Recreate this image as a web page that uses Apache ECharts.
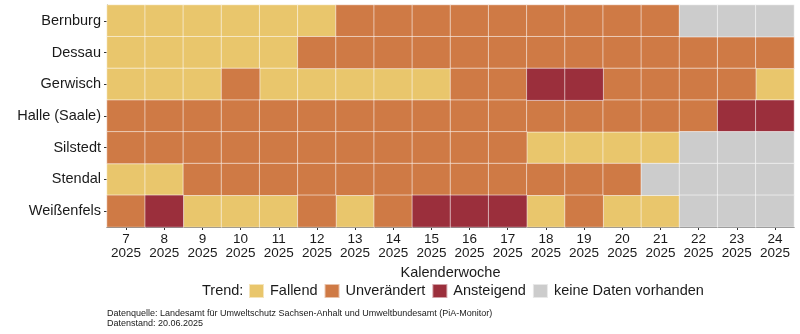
<!DOCTYPE html>
<html>
<head>
<meta charset="utf-8">
<script src="https://cdn.jsdelivr.net/npm/echarts@6/dist/echarts.min.js"></script>
<style>
html,body{margin:0;padding:0;background:#fff;}
#chart{width:800px;height:334px;}
</style>
</head>
<body>
<div id="chart"></div>
<script>
const stations = ['Bernburg','Dessau','Gerwisch','Halle (Saale)','Silstedt','Stendal','Weißenfels'];
const weeks = [7,8,9,10,11,12,13,14,15,16,17,18,19,20,21,22,23,24];
const year = '2025';
// F = Fallend, U = Unverändert, A = Ansteigend, N = keine Daten vorhanden
const trendBernburg   = ['F','F','F','F','F','F','U','U','U','U','U','U','U','U','U','N','N','N'];
const trendDessau     = ['F','F','F','F','F','U','U','U','U','U','U','U','U','U','U','U','U','U'];
const trendGerwisch   = ['F','F','F','U','F','F','F','F','F','U','U','A','A','U','U','U','U','F'];
const trendHalle      = ['U','U','U','U','U','U','U','U','U','U','U','U','U','U','U','U','A','A'];
const trendSilstedt   = ['U','U','U','U','U','U','U','U','U','U','U','F','F','F','F','N','N','N'];
const trendStendal    = ['F','F','U','U','U','U','U','U','U','U','U','U','U','U','N','N','N','N'];
const trendWeissenfels= ['U','A','F','F','F','U','F','U','A','A','A','F','U','F','F','N','N','N'];
const trendRows = [trendBernburg,trendDessau,trendGerwisch,trendHalle,trendSilstedt,trendStendal,trendWeissenfels];
const trendCodes = ['F','U','A','N'];
const trendNames = ['Fallend','Unverändert','Ansteigend','keine Daten vorhanden'];
const trendColors = ['#E9C66C','#CF7A45','#9B2F3C','#CCCCCC'];
const footnote1 = 'Datenquelle: Landesamt für Umweltschutz Sachsen-Anhalt und Umweltbundesamt (PiA-Monitor)';
const footnote2 = 'Datenstand: 20.06.2025';

const weekLabels = weeks.map(w => w + '\n' + year);
const series = trendCodes.map((code, ci) => {
  const data = [];
  trendRows.forEach((row, ri) => {
    row.forEach((v, wi) => { if (v === code) data.push([wi, ri, ci]); });
  });
  return {
    name: trendNames[ci],
    type: 'heatmap',
    data: data,
    itemStyle: { color: trendColors[ci], borderColor: 'rgba(255,255,255,0.55)', borderWidth: 1 },
    emphasis: { disabled: true },
    animation: false
  };
});

const FONT = '"Liberation Sans", Arial, sans-serif';
const TXT = '#1a1a1a';
const chart = echarts.init(document.getElementById('chart'), null, { renderer: 'canvas' });
chart.setOption({
  animation: false,
  textStyle: { fontFamily: FONT },
  grid: { left: 107, right: 6, top: 5, height: 222 },
  xAxis: {
    type: 'category',
    data: weekLabels,
    name: 'Kalenderwoche',
    nameLocation: 'middle',
    nameGap: 34,
    nameTextStyle: { fontSize: 14.5, color: TXT, fontFamily: FONT },
    axisLine: { show: true, lineStyle: { color: '#333', width: 1 } },
    axisTick: { show: true, alignWithLabel: true, length: 3, lineStyle: { color: '#333' } },
    axisLabel: { fontSize: 13.5, color: TXT, lineHeight: 14.5, margin: 5, fontFamily: FONT, interval: 0 },
    splitLine: { show: false }
  },
  yAxis: {
    type: 'category',
    data: stations,
    inverse: true,
    axisLine: { show: true, lineStyle: { color: '#333', width: 1 } },
    axisTick: { show: true, alignWithLabel: true, length: 3, lineStyle: { color: '#333' } },
    axisLabel: { fontSize: 14.5, color: TXT, margin: 6, fontFamily: FONT },
    splitLine: { show: false }
  },
  title: [
    { text: 'Trend:', left: 202, top: 283, textStyle: { fontSize: 14.5, fontWeight: 'normal', color: TXT, fontFamily: FONT, lineHeight: 15 }, padding: 0 },
    { text: footnote1 + '\n' + footnote2, left: 107, top: 309, textStyle: { fontSize: 9, fontWeight: 'normal', color: TXT, lineHeight: 10, fontFamily: FONT }, padding: 0 }
  ],
  legend: {
    data: trendNames,
    left: 248,
    top: 283,
    padding: 0,
    icon: 'rect',
    itemWidth: 15,
    itemHeight: 14,
    itemGap: 6,
    selectedMode: false,
    textStyle: { fontSize: 14.5, color: TXT, padding: [0, 0, 0, 1], fontFamily: FONT }
  },
  series: series
});
</script>
</body>
</html>
